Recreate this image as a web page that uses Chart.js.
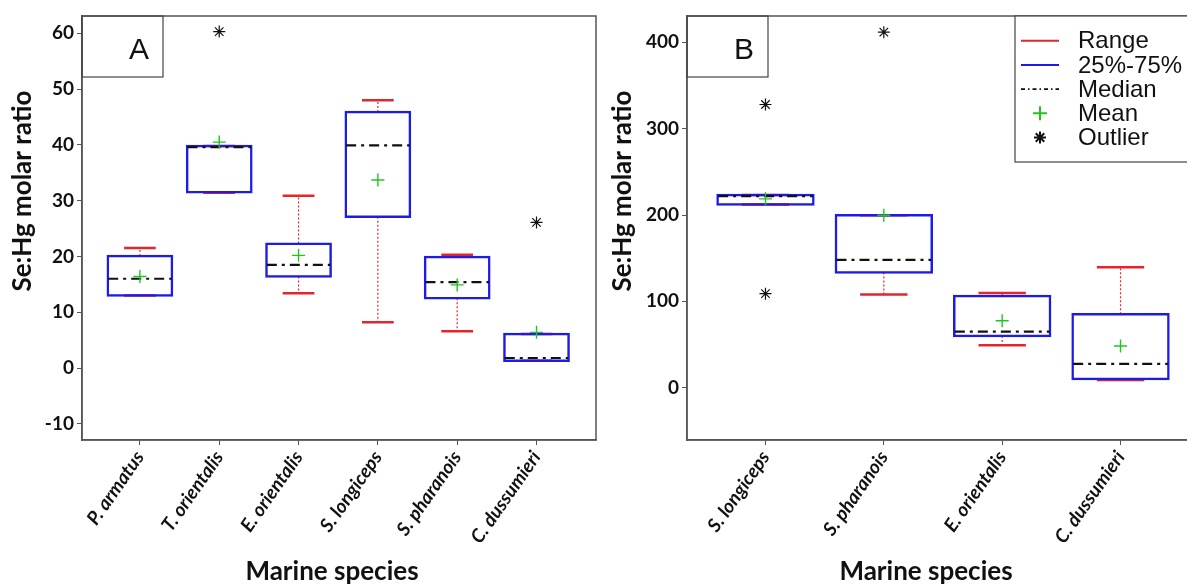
<!DOCTYPE html>
<html>
<head>
<meta charset="utf-8">
<script src="https://cdn.jsdelivr.net/npm/chart.js@4.4.1/dist/chart.umd.min.js"></script>
<style>
  html, body { margin: 0; padding: 0; background: #fff; overflow: hidden; }
  #wrap { position: relative; width: 1187px; height: 586px; overflow: hidden; }
  .panel { position: absolute; top: 0; height: 586px; }
  #panelA { left: 0; width: 664px; }
  #panelB { left: 600px; width: 652px; }
</style>
</head>
<body>
<div id="wrap">
  <div class="panel" id="panelA"><canvas id="chartA" width="664" height="586"></canvas></div>
  <div class="panel" id="panelB"><canvas id="chartB" width="652" height="586"></canvas></div>
</div>
<script>
// panel A
const speciesA = ['P. armatus', 'T. orientalis', 'E. orientalis', 'S. longiceps', 'S. pharanois', 'C. dussumieri'];
const minA = [13.0, 31.4, 13.4, 8.2, 6.6, 1.3];
const q1A = [13.0, 31.5, 16.4, 27.1, 12.5, 1.3];
const medianA = [16.0, 39.6, 18.5, 39.9, 15.4, 1.8];
const q3A = [20.1, 39.8, 22.3, 45.9, 19.9, 6.1];
const maxA = [21.5, 39.8, 30.9, 48.0, 20.3, 6.1];
const meanA = [16.4, 40.5, 20.2, 33.7, 14.9, 6.4];
const outliersA = [[], [60.3], [], [], [], [26.1]];
const ticksA = [-10, 0, 10, 20, 30, 40, 50, 60];

// panel B
const speciesB = ['S. longiceps', 'S. pharanois', 'E. orientalis', 'C. dussumieri'];
const minB = [212.1, 107.8, 49.1, 8.9];
const q1B = [212.1, 133.3, 59.9, 10.1];
const medianB = [221.8, 148.0, 64.9, 27.5];
const q3B = [223.3, 199.8, 106.3, 85.0];
const maxB = [223.3, 199.8, 109.7, 139.5];
const meanB = [218.7, 199.7, 77.6, 48.3];
const outliersB = [[328, 108.9], [411.8], [], []];
const ticksB = [0, 100, 200, 300, 400];

const legendLabels = ['Range', '25%-75%', 'Median', 'Mean', 'Outlier'];

const red = '#e3262b';
const blue = '#1c1ce6';
const green = '#22c422';
const ink = '#111111';
const frame = '#555555';
const medianDash = [10, 5, 3, 5];
const bottomSpace = 30;

function buildDatasets(mins, q1s, meds, q3s, maxs, means, outliers) {
    const capHalf = 0.2;
    const medHalf = 0.4;
    const caps = [];
    const whiskers = [];
    const medLines = [];
    mins.forEach((mn, i) => {
        const x = i + 1;
        caps.push({ x: x - capHalf, y: maxs[i] }, { x: x + capHalf, y: maxs[i] }, { x: x, y: null });
        caps.push({ x: x - capHalf, y: mn }, { x: x + capHalf, y: mn }, { x: x, y: null });
        whiskers.push({ x: x, y: q3s[i] }, { x: x, y: maxs[i] }, { x: x, y: null });
        whiskers.push({ x: x, y: q1s[i] }, { x: x, y: mn }, { x: x, y: null });
        medLines.push({ x: x - medHalf, y: meds[i] }, { x: x + medHalf, y: meds[i] }, { x: x, y: null });
    });
    const outPts = outliers.flatMap((arr, i) => arr.map(v => ({ x: i + 1, y: v })));

    // first dataset is drawn on top
    return [
        {
            type: 'scatter', label: 'Outlier', data: outPts,
            pointStyle: 'star', pointRadius: 6, borderColor: ink, borderWidth: 1.2
        },
        {
            type: 'scatter', label: 'Mean', data: means.map((m, i) => ({ x: i + 1, y: m })),
            pointStyle: 'cross', pointRadius: 6.5, borderColor: green, borderWidth: 1.4
        },
        {
            type: 'line', label: 'Median', data: medLines, borderColor: ink, borderWidth: 2.2,
            borderDash: medianDash, pointRadius: 0, spanGaps: false
        },
        {
            // tiny border + inflate gives a 2.5px outline centred on q1/q3
            type: 'bar', label: '25%-75%', data: q1s.map((q, i) => ({ x: i + 1, y: [q, q3s[i]] })),
            backgroundColor: 'rgba(0,0,0,0)', borderColor: blue, borderWidth: 0.02, borderSkipped: false,
            inflateAmount: 1.24, barPercentage: 0.9, categoryPercentage: 0.9
        },
        {
            type: 'line', label: 'Range', data: caps, borderColor: red, borderWidth: 2.5,
            pointRadius: 0, spanGaps: false
        },
        {
            type: 'line', label: 'Range', data: whiskers, borderColor: red, borderWidth: 1.2,
            borderDash: [2, 2], pointRadius: 0, spanGaps: false
        }
    ];
}

function drawLegend(ctx, area, left) {
    const top = area.top;
    ctx.fillStyle = '#fff';
    ctx.fillRect(left, top, 400, 146);
    ctx.strokeStyle = '#444';
    ctx.lineWidth = 1.2;
    ctx.strokeRect(left, top, 400, 146);
    ctx.font = '24px "Liberation Sans", Arial, sans-serif';
    ctx.textAlign = 'left';
    ctx.textBaseline = 'middle';
    legendLabels.forEach((label, k) => {
        const y = top + 24.7 + k * 24.2;
        const x0 = left + 6, x1 = left + 44, xc = left + 25;
        ctx.save();
        if (k < 3) {
            ctx.beginPath();
            ctx.moveTo(x0, y);
            ctx.lineTo(x1, y);
            ctx.strokeStyle = [red, blue, ink][k];
            ctx.lineWidth = k === 2 ? 1.6 : 2;
            if (k === 2) ctx.setLineDash([4, 3, 1.5, 3]);
            ctx.stroke();
        } else if (k === 3) {
            ctx.strokeStyle = green;
            ctx.lineWidth = 2;
            Chart.helpers.drawPoint(ctx, { pointStyle: 'cross', radius: 7, borderWidth: 2 }, xc, y);
        } else {
            ctx.strokeStyle = ink;
            ctx.lineWidth = 2;
            Chart.helpers.drawPoint(ctx, { pointStyle: 'star', radius: 6, borderWidth: 2 }, xc, y);
        }
        ctx.restore();
        ctx.fillStyle = ink;
        ctx.fillText(label, left + 63, y + 1);
    });
}

const decor = {
    id: 'decor',
    afterDraw(chart, args, opts) {
        const { ctx, chartArea: a } = chart;
        ctx.save();
        ctx.strokeStyle = frame;
        ctx.lineWidth = 1.5;
        ctx.strokeRect(a.left, a.top, a.right - a.left, a.bottom - a.top);

        // panel letter box
        ctx.strokeStyle = '#444';
        ctx.lineWidth = 1.2;
        ctx.strokeRect(a.left, a.top, 81, 61);
        ctx.fillStyle = ink;
        ctx.font = '30px "Liberation Sans", Arial, sans-serif';
        ctx.textAlign = 'center';
        ctx.textBaseline = 'middle';
        ctx.fillText(opts.letter, a.left + 57, a.top + 35);

        // axis titles
        ctx.font = 'bold 26px Lato, sans-serif';
        ctx.fillText(opts.xTitle, opts.xTitleX, 572);
        ctx.save();
        ctx.translate(23, 191);
        ctx.rotate(-Math.PI / 2);
        ctx.fillText(opts.yTitle, 0, 0);
        ctx.restore();

        if (opts.legendLeft) drawLegend(ctx, a, opts.legendLeft);
        ctx.restore();
    }
};

function makeChart(id, species, datasets, yTicks, xMin, xMax, yMin, yMax, axisWidth, padRight, decorOpts) {
    return new Chart(document.getElementById(id), {
        type: 'bar',
        data: { datasets: datasets },
        plugins: [decor],
        options: {
            responsive: false,
            animation: false,
            events: [],
            layout: { padding: { top: 16, right: padRight, left: 0, bottom: bottomSpace } },
            plugins: {
                legend: { display: false },
                tooltip: { enabled: false },
                decor: decorOpts
            },
            scales: {
                x: {
                    type: 'linear',
                    min: xMin,
                    max: xMax,
                    offset: false,
                    afterBuildTicks: scale => { scale.ticks = species.map((_, i) => ({ value: i + 1 })); },
                    afterFit: scale => { scale.height = 586 - 440 - bottomSpace; },
                    grid: { drawOnChartArea: false, drawTicks: true, tickLength: 5, color: frame, offset: false },
                    border: { color: frame, width: 1.5 },
                    ticks: {
                        autoSkip: false,
                        minRotation: 55,
                        maxRotation: 55,
                        padding: 2,
                        color: ink,
                        font: { family: 'Lato', style: 'italic', weight: 'bold', size: 19 },
                        callback: value => species[value - 1]
                    }
                },
                y: {
                    min: yMin,
                    max: yMax,
                    afterBuildTicks: scale => { scale.ticks = yTicks.map(v => ({ value: v })); },
                    afterFit: scale => { scale.width = axisWidth; },
                    grid: { drawOnChartArea: false, drawTicks: true, tickLength: 5, color: frame },
                    border: { color: frame, width: 1.5 },
                    ticks: {
                        padding: 3,
                        color: ink,
                        font: { family: 'Lato', weight: 'bold', size: 19 }
                    }
                }
            }
        }
    });
}

makeChart('chartA', speciesA,
    buildDatasets(minA, q1A, medianA, q3A, maxA, meanA, outliersA),
    ticksA, 0.27, 6.75, -12.9, 63.1, 82, 68,
    { letter: 'A', xTitle: 'Marine species', xTitleX: 332, yTitle: 'Se:Hg molar ratio' });

makeChart('chartB', speciesB,
    buildDatasets(minB, q1B, medianB, q3B, maxB, meanB, outliersB),
    ticksB, 0.337, 4.663, -60.6, 430.5, 87, 53,
    { letter: 'B', xTitle: 'Marine species', xTitleX: 326, yTitle: 'Se:Hg molar ratio', legendLeft: 415 });
</script>
</body>
</html>
